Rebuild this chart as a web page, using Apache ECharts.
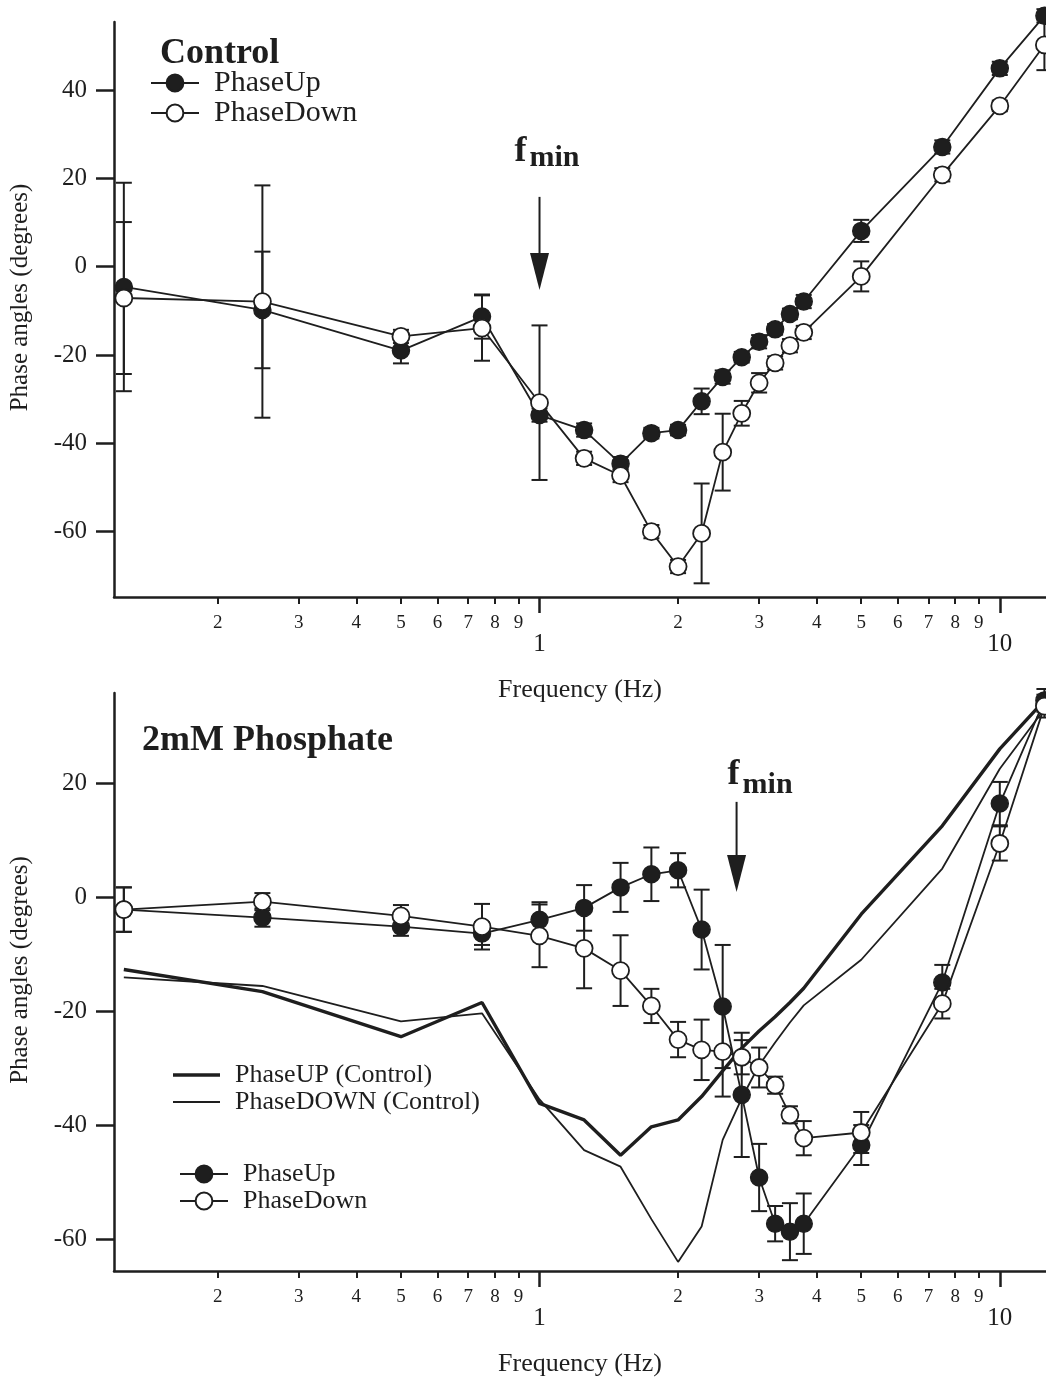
<!DOCTYPE html>
<html>
<head>
<meta charset="utf-8">
<script src="https://cdn.jsdelivr.net/npm/echarts@6/dist/echarts.min.js"></script>
<style>
  html, body { margin: 0; padding: 0; background: #ffffff; }
  #chart { width: 1046px; height: 1380px; }
</style>
</head>
<body>
<div id="chart"></div>
<script>
// Stimulus frequencies (Hz)
const FREQ = [0.125, 0.25, 0.5, 0.75, 1, 1.25, 1.5, 1.75, 2, 2.25, 2.5, 2.75, 3, 3.25, 3.5, 3.75, 5, 7.5, 10, 12.5];

// Control: phase angles (degrees) and error half-widths
const CTRL_UP       = [-4.6, -9.8, -19.0, -11.3, -33.6, -37.0, -44.6, -37.7, -37.0, -30.5, -25.0, -20.5, -17.0, -14.2, -10.7, -7.9, 8.1, 27.1, 44.9, 56.8];
const CTRL_UP_ERR   = [23.6, 13.2, 2.9, 5.0, 1.5, 1.5, 1.5, 1.2, 1.2, 2.9, 1.5, 1.2, 1.5, 1.2, 1.2, 1.5, 2.5, 1.5, 1.5, 1.5];
const CTRL_DOWN     = [-7.1, -7.9, -15.8, -13.9, -30.8, -43.4, -47.3, -60.0, -67.9, -60.4, -42.0, -33.2, -26.3, -21.8, -17.9, -14.9, -2.2, 20.8, 36.4, 50.2];
const CTRL_DOWN_ERR = [17.2, 26.3, 1.5, 7.4, 17.5, 1.5, 1.5, 1.5, 1.5, 11.3, 8.7, 2.8, 2.2, 1.5, 1.5, 1.5, 3.4, 1.5, 1.2, 5.7];

// 2mM phosphate: phase angles (degrees) and error half-widths
const PHOS_UP       = [-2.2, -3.6, -5.2, -6.4, -4.0, -1.9, 1.7, 4.0, 4.7, -5.7, -19.2, -34.7, -49.2, -57.3, -58.7, -57.3, -43.5, -15.0, 16.4, 34.5];
const PHOS_UP_ERR   = [3.9, 1.6, 1.6, 2.0, 3.1, 4.0, 4.3, 4.7, 3.0, 7.0, 10.8, 10.9, 5.9, 3.1, 5.0, 5.3, 3.5, 3.1, 3.8, 2.0];
const PHOS_DOWN     = [-2.2, -0.8, -3.3, -5.2, -6.8, -9.0, -12.9, -19.1, -25.0, -26.8, -27.1, -28.1, -29.9, -33.0, -38.2, -42.3, -41.3, -18.7, 9.4, 33.5];
const PHOS_DOWN_ERR = [3.9, 1.5, 1.9, 4.0, 5.5, 7.0, 6.2, 3.0, 3.1, 5.3, 7.9, 3.0, 3.5, 1.5, 1.5, 3.0, 3.6, 2.6, 3.0, 2.0];

// Control reference curves shown in the phosphate panel
const REF_UP   = [-12.7, -16.6, -24.5, -18.5, -36.2, -39.1, -45.3, -40.3, -39.1, -35.0, -30.5, -26.5, -23.5, -21.0, -18.5, -16.0, -3.0, 12.5, 26.0, 34.5];
const REF_DOWN = [-14.1, -15.6, -21.8, -20.4, -35.5, -44.4, -47.3, -56.5, -64.0, -57.8, -42.6, -35.3, -29.5, -25.5, -22.0, -19.0, -11.0, 5.0, 22.5, 33.0];

// f_min markers: [frequency, shaft top, arrow tip] (degrees)
const FMIN_CTRL = [1.0, 15.8, -5.3];
const FMIN_PHOS = [2.68, 16.7, 0.9];

// Axis ticks
const X_RANGE = [0.119, 12.6];
const X_MINOR = [0.2, 0.3, 0.4, 0.5, 0.6, 0.7, 0.8, 0.9, 2, 3, 4, 5, 6, 7, 8, 9];
const X_MAJOR = [1, 10];
const Y_RANGE_CTRL = [-74.8, 55.4];
const Y_TICKS_CTRL = [-60, -40, -20, 0, 20, 40];
const Y_RANGE_PHOS = [-65.6, 35.8];
const Y_TICKS_PHOS = [-60, -40, -20, 0, 20];

const INK = '#1e1e1e';
const SERIF = "'Liberation Serif', 'Times New Roman', serif";

const chart = echarts.init(document.getElementById('chart'), null, { renderer: 'canvas' });

const pairs = (ys) => FREQ.map((f, i) => [f, ys[i]]);
const triples = (ys, es) => FREQ.map((f, i) => [f, ys[i], es[i]]);
const lg = Math.log10;

function errorBars(params, api) {
  const f = api.value(0), y = api.value(1), e = api.value(2);
  const hi = api.coord([f, y + e]);
  const lo = api.coord([f, y - e]);
  const hw = 8;
  const style = { stroke: INK, lineWidth: 2, fill: null };
  return {
    type: 'group',
    children: [
      { type: 'line', shape: { x1: hi[0], y1: hi[1], x2: lo[0], y2: lo[1] }, style },
      { type: 'line', shape: { x1: hi[0] - hw, y1: hi[1], x2: hi[0] + hw, y2: hi[1] }, style },
      { type: 'line', shape: { x1: lo[0] - hw, y1: lo[1], x2: lo[0] + hw, y2: lo[1] }, style }
    ]
  };
}

function arrowRenderer(fOff, mOff) {
  return function (params, api) {
    const f = api.value(0);
    const top = api.coord([f, api.value(1)]);
    const tip = api.coord([f, api.value(2)]);
    const headLen = 37, headW = 9.5;
    return {
      type: 'group',
      children: [
        { type: 'line', shape: { x1: top[0], y1: top[1], x2: tip[0], y2: tip[1] - headLen + 2 },
          style: { stroke: INK, lineWidth: 2 } },
        { type: 'polygon', shape: { points: [[tip[0] - headW, tip[1] - headLen], [tip[0] + headW, tip[1] - headLen], [tip[0], tip[1]]] },
          style: { fill: INK } },
        { type: 'text', x: top[0] + fOff[0], y: top[1] + fOff[1],
          style: { text: 'f', font: 'bold 36px ' + SERIF, fill: INK, align: 'center', verticalAlign: 'middle' } },
        { type: 'text', x: top[0] + mOff[0], y: top[1] + mOff[1],
          style: { text: 'min', font: 'bold 30px ' + SERIF, fill: INK, align: 'left', verticalAlign: 'middle' } }
      ]
    };
  };
}

function xAxes(gridIndex) {
  return [
    { // data axis (logarithmic)
      type: 'log', gridIndex, position: 'bottom', min: X_RANGE[0], max: X_RANGE[1], logBase: 10,
      axisLine: { show: true, onZero: false, lineStyle: { color: INK, width: 2.5 } },
      axisTick: { show: false }, axisLabel: { show: false }, splitLine: { show: false },
      name: 'Frequency (Hz)', nameLocation: 'middle', nameGap: 80,
      nameTextStyle: { fontFamily: SERIF, fontSize: 26, color: INK }
    },
    { // intermediate decade ticks 2..9
      type: 'value', gridIndex, position: 'bottom', min: lg(X_RANGE[0]), max: lg(X_RANGE[1]),
      axisLine: { show: false, onZero: false }, splitLine: { show: false },
      axisTick: { show: true, length: 7, customValues: X_MINOR.map(lg), lineStyle: { color: INK, width: 2 } },
      axisLabel: { show: true, customValues: X_MINOR.map(lg), margin: 17, fontFamily: SERIF, fontSize: 19, color: INK,
        formatter: (v) => String(Math.round(Math.pow(10, v - Math.floor(v + 1e-9)))) }
    },
    { // decade ticks 1, 10
      type: 'value', gridIndex, position: 'bottom', min: lg(X_RANGE[0]), max: lg(X_RANGE[1]),
      axisLine: { show: false, onZero: false }, splitLine: { show: false },
      axisTick: { show: true, length: 16, customValues: X_MAJOR.map(lg), lineStyle: { color: INK, width: 2.5 } },
      axisLabel: { show: true, customValues: X_MAJOR.map(lg), margin: 35, fontFamily: SERIF, fontSize: 25, color: INK,
        formatter: (v) => String(Math.round(Math.pow(10, v))) }
    }
  ];
}

function yAxis(gridIndex, range, ticks) {
  return {
    type: 'value', gridIndex, position: 'left', min: range[0], max: range[1],
    axisLine: { show: true, onZero: false, lineStyle: { color: INK, width: 2.5 } },
    axisTick: { show: true, length: 18, customValues: ticks, lineStyle: { color: INK, width: 2.5 } },
    axisLabel: { show: true, customValues: ticks, margin: 27, fontFamily: SERIF, fontSize: 25, color: INK },
    splitLine: { show: false },
    name: 'Phase angles (degrees)', nameLocation: 'middle', nameGap: 81,
    nameTextStyle: { fontFamily: SERIF, fontSize: 25, color: INK, padding: [0, 0, 0, 24] }
  };
}

const markerBase = { type: 'line', symbol: 'circle', symbolSize: 17, clip: false, lineStyle: { color: INK, width: 1.8 } };
const filledStyle = { color: INK, borderColor: INK, borderWidth: 1.5 };
const openStyle = { color: '#ffffff', borderColor: INK, borderWidth: 1.8 };
const legendText = (size) => ({ fontFamily: SERIF, fontSize: size, color: INK, padding: [0, 0, 0, 10] });

const option = {
  backgroundColor: '#ffffff',
  animation: false,
  title: [
    { text: 'Control', left: 155, top: 31, textStyle: { fontFamily: SERIF, fontSize: 36, fontWeight: 'bold', color: INK } },
    { text: '2mM Phosphate', left: 137, top: 718, textStyle: { fontFamily: SERIF, fontSize: 36, fontWeight: 'bold', color: INK } }
  ],
  legend: [
    { orient: 'vertical', left: 150, top: 68, padding: 0, itemWidth: 48, itemHeight: 21, itemGap: 0,
      data: ['PhaseUp', 'PhaseDown'], textStyle: legendText(30) },
    { orient: 'vertical', left: 173, top: 1062, padding: 0, itemWidth: 47, itemHeight: 3.4, icon: 'rect',
      data: ['PhaseUP (Control)'], textStyle: legendText(26) },
    { orient: 'vertical', left: 173, top: 1089, padding: 0, itemWidth: 47, itemHeight: 1.8, icon: 'rect',
      data: ['PhaseDOWN (Control)'], textStyle: legendText(26) },
    { orient: 'vertical', left: 179, top: 1161, padding: 0, itemWidth: 48, itemHeight: 21, itemGap: 1,
      data: ['PhaseUp', 'PhaseDown'], textStyle: legendText(26) }
  ],
  grid: [
    { left: 113, top: 22, width: 933, height: 575 },
    { left: 113, top: 693, width: 933, height: 578 }
  ],
  xAxis: [...xAxes(0), ...xAxes(1)],
  yAxis: [yAxis(0, Y_RANGE_CTRL, Y_TICKS_CTRL), yAxis(1, Y_RANGE_PHOS, Y_TICKS_PHOS)],
  series: [
    // Control panel
    { type: 'custom', xAxisIndex: 0, yAxisIndex: 0, z: 2, renderItem: errorBars, data: triples(CTRL_UP, CTRL_UP_ERR), encode: { x: 0, y: 1 } },
    { type: 'custom', xAxisIndex: 0, yAxisIndex: 0, z: 2, renderItem: errorBars, data: triples(CTRL_DOWN, CTRL_DOWN_ERR), encode: { x: 0, y: 1 } },
    { ...markerBase, name: 'PhaseUp', xAxisIndex: 0, yAxisIndex: 0, z: 3, itemStyle: filledStyle, data: pairs(CTRL_UP) },
    { ...markerBase, name: 'PhaseDown', xAxisIndex: 0, yAxisIndex: 0, z: 4, itemStyle: openStyle, data: pairs(CTRL_DOWN) },
    { type: 'custom', xAxisIndex: 0, yAxisIndex: 0, z: 5, renderItem: arrowRenderer([-19, -45], [-10, -39]), data: [FMIN_CTRL], encode: { x: 0, y: 1 } },

    // Phosphate panel
    { type: 'line', name: 'PhaseUP (Control)', xAxisIndex: 3, yAxisIndex: 1, z: 2, symbol: 'none', clip: false,
      lineStyle: { color: INK, width: 3.4 }, itemStyle: { color: INK }, data: pairs(REF_UP) },
    { type: 'line', name: 'PhaseDOWN (Control)', xAxisIndex: 3, yAxisIndex: 1, z: 2, symbol: 'none', clip: false,
      lineStyle: { color: INK, width: 1.8 }, itemStyle: { color: INK }, data: pairs(REF_DOWN) },
    { type: 'custom', xAxisIndex: 3, yAxisIndex: 1, z: 3, renderItem: errorBars, data: triples(PHOS_UP, PHOS_UP_ERR), encode: { x: 0, y: 1 } },
    { type: 'custom', xAxisIndex: 3, yAxisIndex: 1, z: 3, renderItem: errorBars, data: triples(PHOS_DOWN, PHOS_DOWN_ERR), encode: { x: 0, y: 1 } },
    { ...markerBase, name: 'PhaseUp', xAxisIndex: 3, yAxisIndex: 1, z: 4, itemStyle: filledStyle, data: pairs(PHOS_UP) },
    { ...markerBase, name: 'PhaseDown', xAxisIndex: 3, yAxisIndex: 1, z: 5, itemStyle: openStyle, data: pairs(PHOS_DOWN) },
    { type: 'custom', xAxisIndex: 3, yAxisIndex: 1, z: 6, renderItem: arrowRenderer([-3, -27], [6, -17]), data: [FMIN_PHOS], encode: { x: 0, y: 1 } }
  ]
};

chart.setOption(option);
</script>
</body>
</html>
